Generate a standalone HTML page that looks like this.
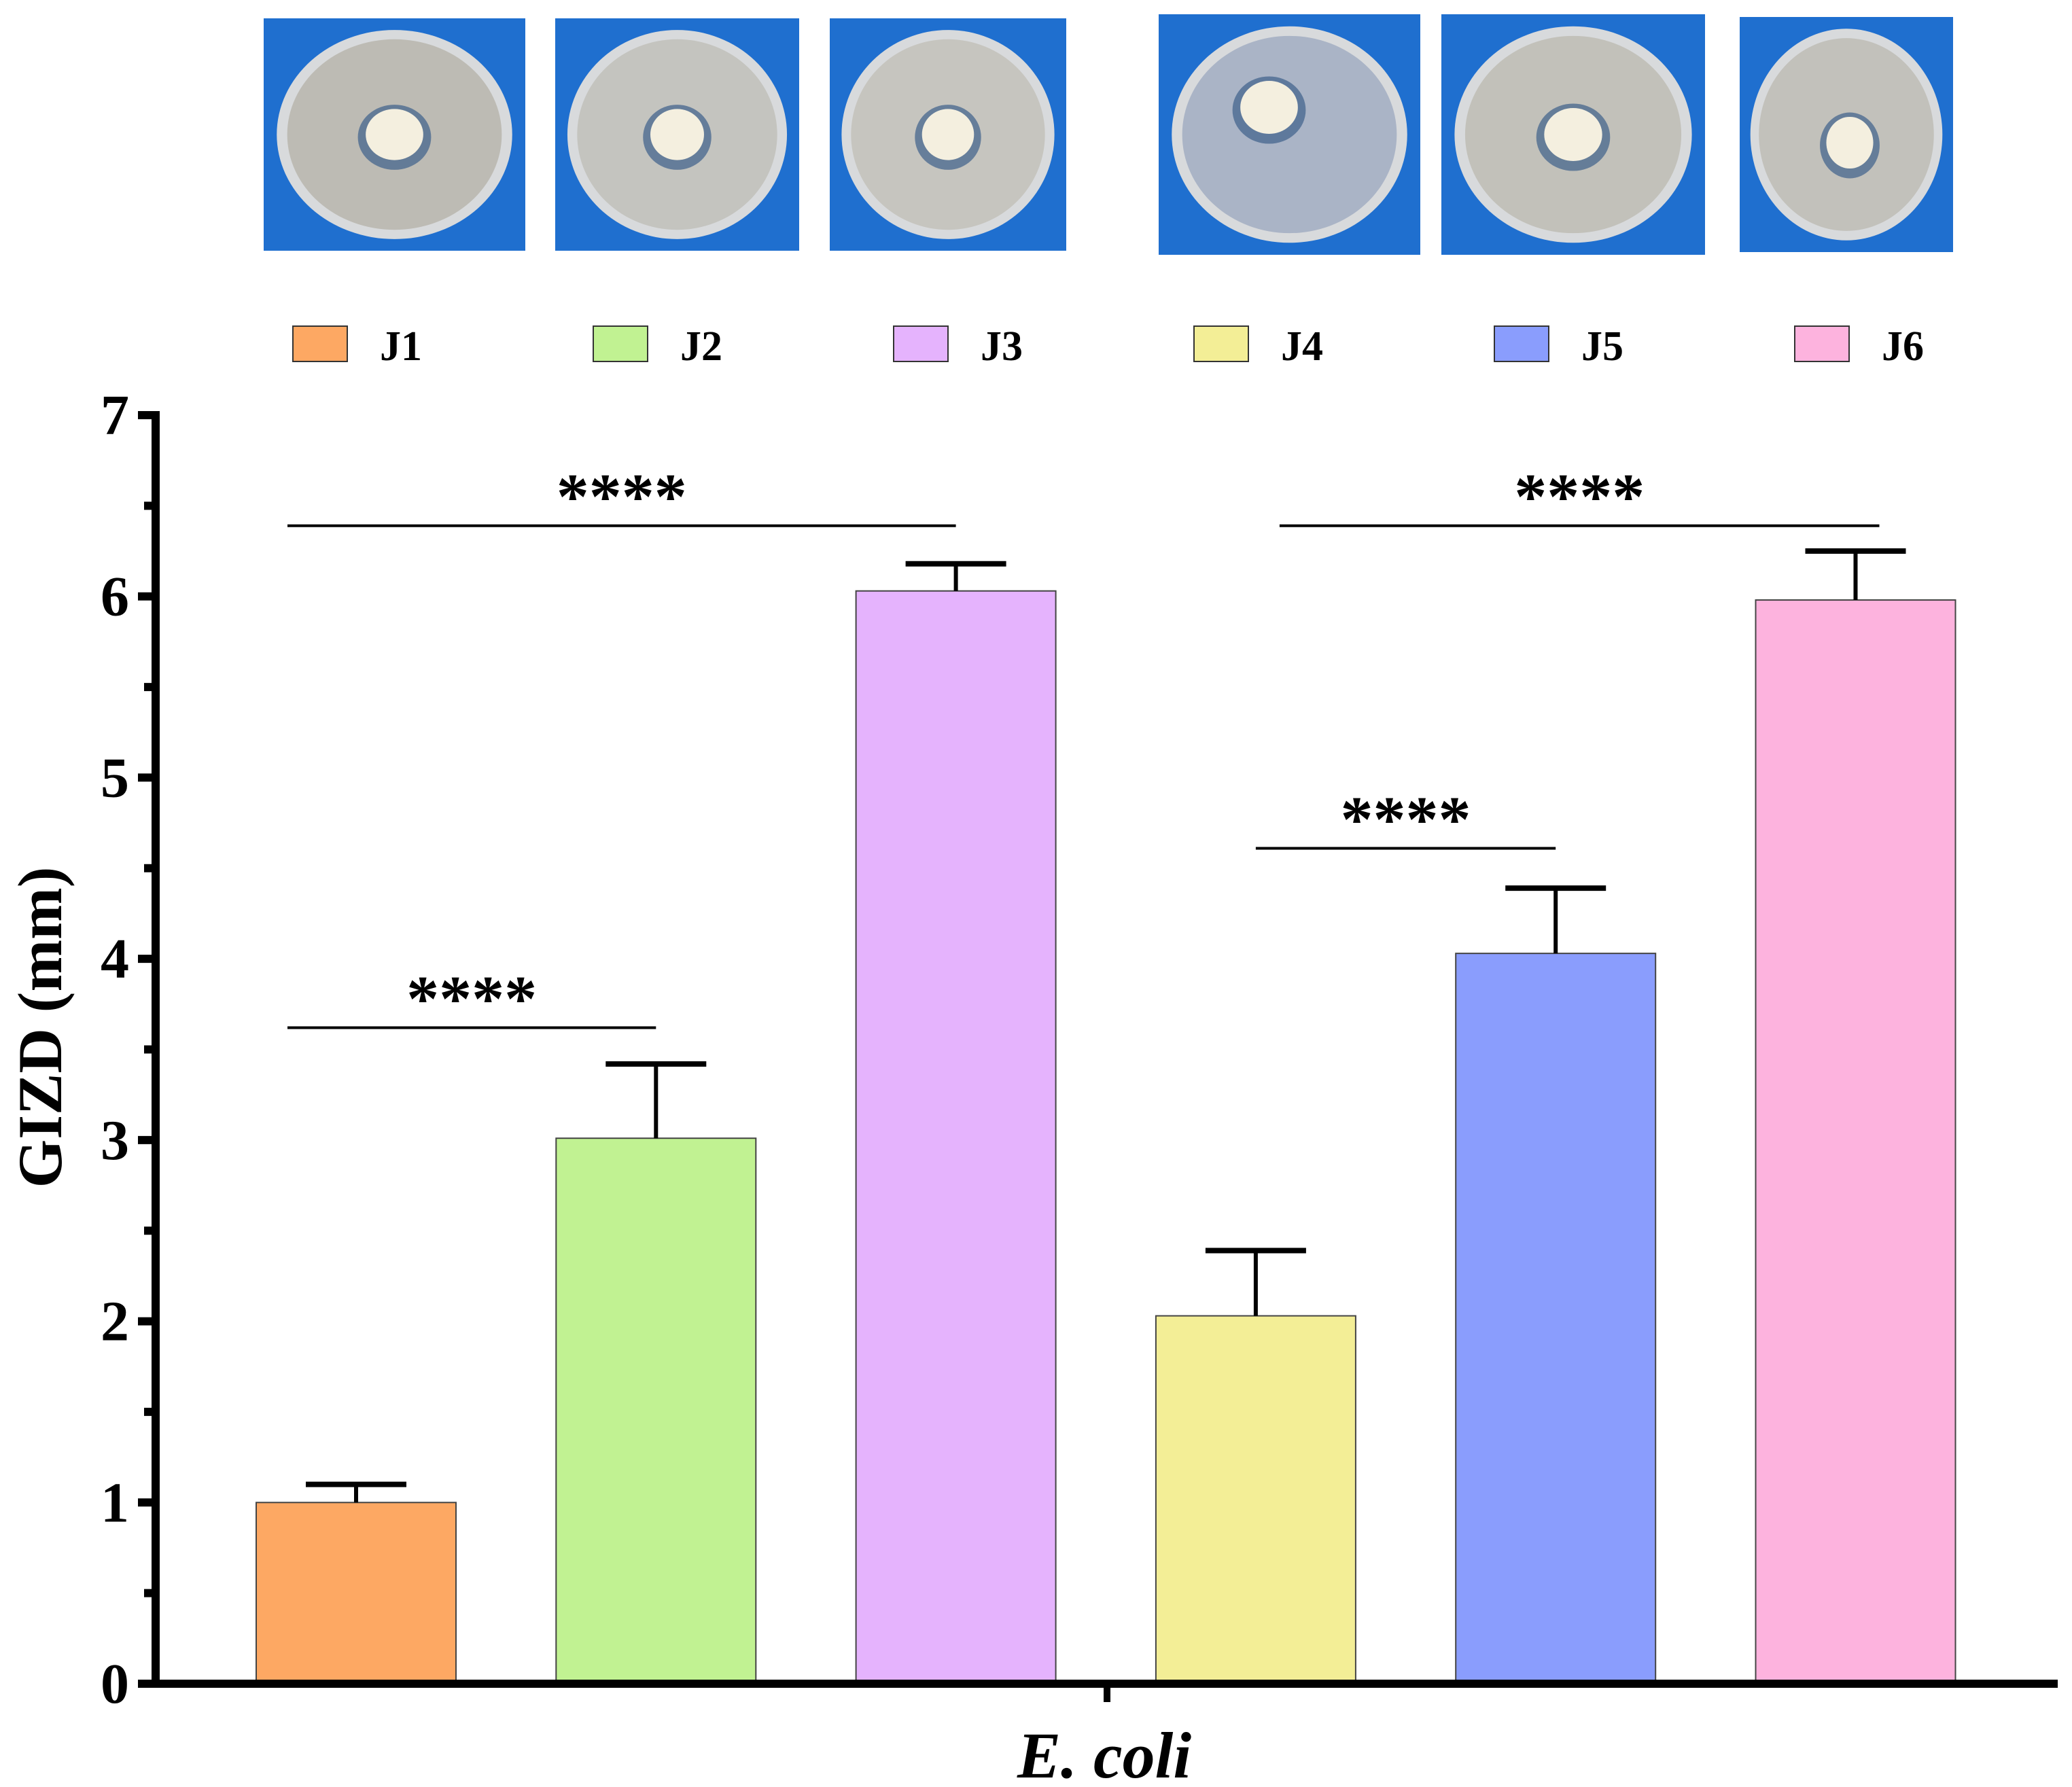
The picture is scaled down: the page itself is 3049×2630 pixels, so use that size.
<!DOCTYPE html>
<html><head><meta charset="utf-8">
<style>
html,body{margin:0;padding:0;background:#fff;}
svg{display:block;}
text{font-family:"Liberation Serif",serif;font-weight:bold;fill:#000;}
</style></head>
<body>
<svg id="chart" width="3049" height="2630" viewBox="0 0 3049 2630" xmlns="http://www.w3.org/2000/svg">
<g id="photos"></g>
<g id="legend"></g>
<g id="plot"></g>
</svg>
<script>
const categories = ["J1","J2","J3","J4","J5","J6"];
const values = [1.0, 3.01, 6.03, 2.03, 4.03, 5.98];
const errors = [0.1, 0.41, 0.15, 0.36, 0.36, 0.27];
const colors = ["#fda863","#c1f292","#e5b3fd","#f3ee96","#8a9dfd","#fdb3de"];
const yTicks = [0,1,2,3,4,5,6,7];
const sigFrom = [0, 0, 3, 3];
const sigTo = [1, 2, 4, 5];
const sigLevel = [3.62, 6.39, 4.61, 6.39];
const sigLabel = ["****","****","****","****"];

const NS = "http://www.w3.org/2000/svg";
function mk(tag, attrs, parent){const e=document.createElementNS(NS,tag);for(const k in attrs)e.setAttribute(k,attrs[k]);parent.appendChild(e);return e;}
const plot = document.getElementById('plot');
const y0 = 2478, yTop = 611, yMax = 7;
function yS(v){return y0 - (y0 - yTop) * v / yMax;}
const barW = 294, firstC = 524, step = 441.3;
function xC(i){return firstC + i*step;}

categories.forEach((c,i)=>{
  const r = mk('rect',{x:xC(i)-barW/2,y:yS(values[i]),width:barW,height:y0-yS(values[i]),fill:colors[i],stroke:'#444','stroke-width':2},plot);
  
  
  const e = mk('g',{},plot);
  
  
  mk('line',{x1:xC(i),x2:xC(i),y1:yS(values[i]),y2:yS(values[i]+errors[i]),stroke:'#000','stroke-width':6},e);
  mk('line',{x1:xC(i)-74,x2:xC(i)+74,y1:yS(values[i]+errors[i]),y2:yS(values[i]+errors[i]),stroke:'#000','stroke-width':8},e);
});

sigFrom.forEach((f,k)=>{
  const g = mk('g',{},plot);
  
  
  const wide = sigTo[k]-f > 1;
  const x1 = xC(f) + (f===0 ? -101 : (wide ? 35 : 0));
  const x2 = xC(sigTo[k]) + (wide && f!==0 ? 35 : 0);
  const yy = yS(sigLevel[k]);
  mk('line',{x1:x1,x2:x2,y1:yy,y2:yy,stroke:'#000','stroke-width':4},g);
  const t = mk('text',{x:(x1+x2)/2,y:yy-10,'text-anchor':'middle','font-size':96},g);
  t.textContent = sigLabel[k];
});

const ax = mk('g',{},plot);


mk('line',{x1:229,x2:229,y1:yTop-6,y2:y0+6,stroke:'#000','stroke-width':12},ax);
yTicks.forEach(v=>{
  mk('line',{x1:203,x2:229,y1:yS(v),y2:yS(v),stroke:'#000','stroke-width':12},ax);
  const t = mk('text',{x:190,y:yS(v)+28,'text-anchor':'end','font-size':84},ax);
  
  
  t.textContent = v;
  if(v<7) mk('line',{x1:212,x2:229,y1:yS(v+0.5),y2:yS(v+0.5),stroke:'#000','stroke-width':12},ax);
});
const xa = mk('g',{},plot);


mk('line',{x1:223,x2:3028,y1:y0,y2:y0,stroke:'#000','stroke-width':12},xa);
mk('line',{x1:1629,x2:1629,y1:y0,y2:2505,stroke:'#000','stroke-width':10},xa);
const xl = mk('text',{x:1625,y:2616,'text-anchor':'middle','font-size':96,'font-style':'italic'},plot);


xl.textContent = 'E. coli';
const yl = mk('text',{x:0,y:0,'text-anchor':'middle','font-size':92,transform:'translate(90,1512) rotate(-90)'},plot);


yl.textContent = 'GIZD (mm)';

const leg = document.getElementById('legend');
categories.forEach((c,i)=>{
  const g = mk('g',{},leg);
  
  
  const lx = 431 + i*442;
  mk('rect',{x:lx,y:480,width:80,height:52,fill:colors[i],stroke:'#333','stroke-width':2},g);
  const t = mk('text',{x:lx+128,y:530,'font-size':62},g);
  t.textContent = c;
});

const photoX = [388,817,1221,1705,2121,2560];
const photoW = [385,359,348,385,388,314];
const photoY = [27,27,27,21,21,25];
const photoH = [342,342,342,354,354,346];
const agar = ["#bdbbb4","#c4c4bf","#c6c5bf","#aab4c6","#c2c1ba","#c2c1bb"];
const ph = document.getElementById('photos');
photoX.forEach((px,i)=>{
  const g = mk('g',{},ph);
  
  
  const w=photoW[i], h=photoH[i], py=photoY[i];
  mk('rect',{x:px,y:py,width:w,height:h,fill:'#1f6fcf'},g);
  const cx=px+w/2, cy=py+h/2;
  mk('ellipse',{cx:cx,cy:cy,rx:w*0.45,ry:h*0.45,fill:'#d8dadc'},g);
  mk('ellipse',{cx:cx,cy:cy,rx:w*0.41,ry:h*0.41,fill:agar[i]},g);
  const dx = i===3? cx-30 : cx+(i===5?5:0);
  const dy = i===3? cy-40 : (i===5? cy+12 : cy);
  mk('ellipse',{cx:dx,cy:dy+4,rx:w*0.14,ry:h*0.14,fill:'#3d5f8a',opacity:0.7},g);
  mk('ellipse',{cx:dx,cy:dy,rx:w*0.11,ry:h*0.11,fill:'#f4efdf'},g);
});
</script>
</body></html>
